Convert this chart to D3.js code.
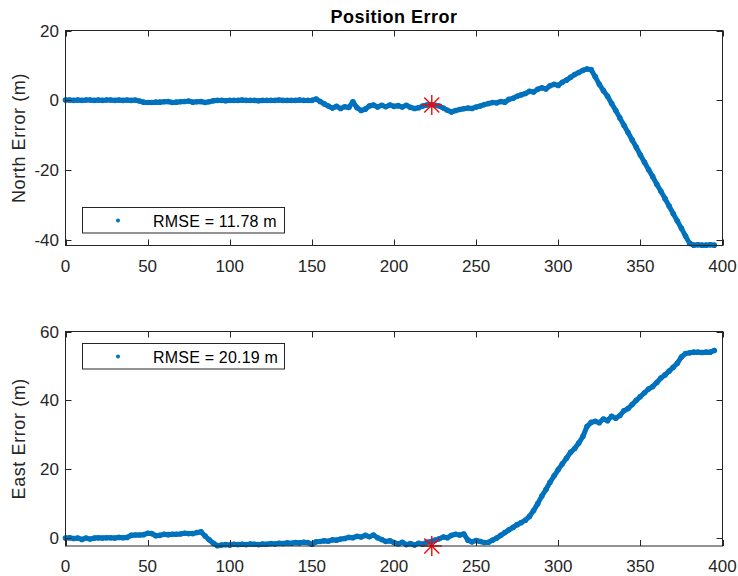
<!DOCTYPE html>
<html>
<head>
<meta charset="utf-8">
<script src="https://cdn.jsdelivr.net/npm/d3@7"></script>
<style>
  body { margin: 0; background: #fff; }
  svg { display: block; font-family: "Liberation Sans", Arial, sans-serif; }
</style>
</head>
<body>
<svg id="chart" width="738" height="576"></svg>
<script>
// sample times (s)
const time = [
  0,2.5,5,7.5,10,12.5,15,17.5,20,22.5,25,27.5,30,32.5,35,37.5,40,42.5,
  45,47.5,50,52.5,55,57.5,60,62.5,65,67.5,70,72.5,75,77.5,80,82.5,85,87.5,
  90,92.5,95,97.5,100,102.5,105,107.5,110,112.5,115,117.5,120,122.5,125,127.5,130,132.5,135,137.5,140,142.5,145,147.5,150,
  152.5,155,157.5,160,162.5,165,167.5,170,172.5,175,177.5,180,182.5,185,187.5,190,192.5,195,197.5,200,
  202.5,205,207.5,210,212.5,215,217.5,220,222.5,225,227.5,230,232.5,235,237.5,240,242.5,245,247.5,250,
  252.5,255,257.5,260,262.5,265,267.5,270,272.5,275,277.5,280,282.5,285,287.5,290,292.5,295,297.5,300,
  302.5,305,307.5,310,312.5,315,317.5,320,322.5,325,327.5,330,332.5,335,337.5,340,342.5,345,347.5,350,
  352.5,355,357.5,360,362.5,365,367.5,370,372.5,375,377.5,380,382.5,385,387.5,390,392.5,395
];

const northErr = [
  0.1,0.1,0.0,0.1,0.0,0.1,0.1,0.0,0.1,0.0,0.1,0.1,0.0,0.1,0.0,0.1,0.0,0.1,
  -0.2,-0.5,-0.6,-0.6,-0.5,-0.5,-0.4,-0.3,-0.6,-0.5,-0.4,-0.3,-0.2,-0.5,-0.4,-0.3,-0.6,-0.4,
  -0.1,0,0,-0.1,0,0,0,0.1,0,0,0,-0.1,0,0,0,0,0.1,0,0,0,0,0.1,0,0,0,
  0.4,-0.3,-1.0,-1.6,-2.2,-1.7,-2.3,-1.8,-2.0,-0.4,-2.1,-2.9,-2.5,-1.6,-1.3,-1.9,-1.4,-1.8,-1.3,-1.7,
  -1.5,-1.9,-1.4,-2.0,-2.3,-2.1,-1.6,-1.3,-1.2,-1.4,-1.6,-2.2,-2.8,-3.3,-2.9,-2.6,-2.4,-2.2,-2.3,-1.9,
  -1.6,-1.2,-0.9,-0.6,-0.7,-0.3,-0.5,0.3,0.6,1.2,1.6,2.0,2.6,2.4,3.2,3.6,3.3,4.2,4.6,4.3,
  5.2,5.8,6.6,7.4,8.0,8.6,9.0,8.8,6.8,4.6,2.8,1.2,-0.9,-2.9,-5.0,-7.1,-9.2,-11.3,-13.4,-15.6,
  -17.7,-19.8,-21.8,-24.0,-26.0,-28.1,-30.2,-32.4,-34.5,-36.6,-38.8,-40.9,-41.4,-41.3,-41.4,-41.4,-41.3,-41.4
];

const eastErr = [
  0.0,0.1,-0.1,0.0,-0.4,0.0,-0.3,0.0,0.1,0.0,0.1,0.1,0.0,0.2,0.1,0.2,0.8,0.9,
  0.9,1.0,1.4,1.3,0.7,0.8,1.1,1.0,1.1,1.1,1.2,1.4,1.3,1.3,1.6,1.8,0.6,-0.5,
  -1.5,-2.2,-2.0,-1.9,-2.0,-1.8,-1.9,-1.8,-1.9,-1.7,-1.8,-1.9,-1.7,-1.8,-1.6,-1.7,-1.5,-1.6,-1.4,-1.5,-1.3,-1.4,-1.2,-1.3,-1.8,
  -1.1,-1.0,-0.8,-0.9,-0.5,-0.6,-0.3,-0.1,0.2,0.1,0.5,0.3,0.8,0.4,0.9,0.1,-0.4,-1.0,-0.8,-1.3,
  -1.7,-1.2,-1.9,-1.6,-2.0,-1.5,-1.8,-1.2,-1.0,-0.6,-0.2,0.3,0.1,0.8,1.1,0.9,1.2,-0.6,-1.1,-0.7,
  -1.0,-1.3,-1.2,-0.6,0.0,0.8,1.6,2.4,3.1,3.9,4.5,5.2,6.3,8.0,10.0,12.2,14.1,16.2,18.1,19.9,
  21.6,23.2,24.9,26.0,27.6,29.5,32.4,33.6,33.9,33.5,34.6,34.1,35.4,34.8,35.6,37.0,37.6,38.8,40.0,41.1,
  42.2,43.3,44.0,45.2,46.5,47.4,48.5,49.6,50.8,52.6,53.6,53.8,54.0,54.0,53.9,54.0,54.0,54.5
];

const xTicks = [0, 50, 100, 150, 200, 250, 300, 350, 400];
const northTicks = [-40, -20, 0, 20];
const eastTicks = [0, 20, 40, 60];
const starTime = 223;
const northStar = -1.3;
const eastStar = -2.3;
const northRmse = "RMSE = 11.78 m";
const eastRmse = "RMSE = 20.19 m";

const blue = "#0072BD";
const ink = "#262626";
const svg = d3.select("#chart");

svg.append("text")
  .attr("x", 394).attr("y", 22.5)
  .attr("text-anchor", "middle")
  .attr("font-size", 18).attr("font-weight", "bold")
  .attr("letter-spacing", 0.5)
  .attr("fill", "#000")
  .text("Position Error");

function drawPanel(opt) {
  const x = d3.scaleLinear().domain([0, 400]).range([65.5, 722.5]);
  const y = d3.scaleLinear().domain(opt.yDomain).range([opt.bottom, opt.top]);
  const g = svg.append("g");
  const tickLen = 6;

  // data
  const pts = time.map((t, i) => [t, opt.values[i]]);
  const line = d3.line().x(d => x(d[0])).y(d => y(d[1]));
  g.append("path")
    .attr("d", line(pts))
    .attr("fill", "none")
    .attr("stroke", blue)
    .attr("stroke-width", 5)
    .attr("stroke-linejoin", "round")
    .attr("stroke-linecap", "round");
  g.append("g").selectAll("circle")
    .data(pts)
    .join("circle")
    .attr("cx", d => x(d[0]))
    .attr("cy", d => y(d[1]))
    .attr("r", 2.8)
    .attr("fill", blue);

  // red star
  const sx = x(starTime), sy = y(opt.star), r = 10, rd = 7.5;
  const star = g.append("g").attr("stroke", "#ff0000").attr("stroke-width", 1.4);
  [[-r, 0, r, 0], [0, -r, 0, r], [-rd, -rd, rd, rd], [-rd, rd, rd, -rd]].forEach(s => {
    star.append("line")
      .attr("x1", sx + s[0]).attr("y1", sy + s[1])
      .attr("x2", sx + s[2]).attr("y2", sy + s[3]);
  });

  // box + ticks (inward, all four sides)
  const [x0, x1] = x.range();
  g.append("rect")
    .attr("x", x0).attr("y", opt.top)
    .attr("width", x1 - x0).attr("height", opt.bottom - opt.top)
    .attr("fill", "none").attr("stroke", ink).attr("stroke-width", 1);

  const ticks = g.append("g").attr("stroke", ink).attr("stroke-width", 1);
  xTicks.forEach(v => {
    const px = Math.round(x(v)) + 0.5;
    ticks.append("line").attr("x1", px).attr("x2", px).attr("y1", opt.bottom).attr("y2", opt.bottom - tickLen);
    ticks.append("line").attr("x1", px).attr("x2", px).attr("y1", opt.top).attr("y2", opt.top + tickLen);
  });
  opt.yTicks.forEach(v => {
    const py = Math.round(y(v)) + 0.5;
    ticks.append("line").attr("x1", x0).attr("x2", x0 + tickLen).attr("y1", py).attr("y2", py);
    ticks.append("line").attr("x1", x1).attr("x2", x1 - tickLen).attr("y1", py).attr("y2", py);
  });

  const lbl = g.append("g").attr("fill", ink).attr("font-size", 17);
  lbl.selectAll(".xt").data(xTicks).join("text")
    .attr("x", d => x(d)).attr("y", opt.bottom + 26)
    .attr("text-anchor", "middle")
    .text(d => d);
  lbl.selectAll(".yt").data(opt.yTicks).join("text")
    .attr("x", 59).attr("y", d => y(d) + 6)
    .attr("text-anchor", "end")
    .text(d => d);

  g.append("text")
    .attr("transform", `translate(25,${(opt.top + opt.bottom) / 2}) rotate(-90)`)
    .attr("text-anchor", "middle")
    .attr("font-size", 18).attr("letter-spacing", 0.6)
    .attr("fill", ink)
    .text(opt.label);

  // legend
  const lg = g.append("g");
  lg.append("rect")
    .attr("x", 82.5).attr("y", opt.legendY)
    .attr("width", 202).attr("height", 25.5)
    .attr("fill", "#fff").attr("stroke", ink).attr("stroke-width", 1);
  lg.append("circle")
    .attr("cx", 118).attr("cy", opt.legendY + 13).attr("r", 2).attr("fill", blue);
  lg.append("text")
    .attr("x", 153).attr("y", opt.legendY + 19)
    .attr("font-size", 16).attr("letter-spacing", 0.2).attr("fill", "#000")
    .text(opt.legend);
}

drawPanel({
  values: northErr, yDomain: [-41.5, 20], yTicks: northTicks,
  top: 30.5, bottom: 245.5, star: northStar, label: "North Error (m)",
  legend: northRmse, legendY: 207.5
});
drawPanel({
  values: eastErr, yDomain: [-2.3, 60], yTicks: eastTicks,
  top: 331.5, bottom: 546, star: eastStar, label: "East Error (m)",
  legend: eastRmse, legendY: 343.5
});
</script>
</body>
</html>
